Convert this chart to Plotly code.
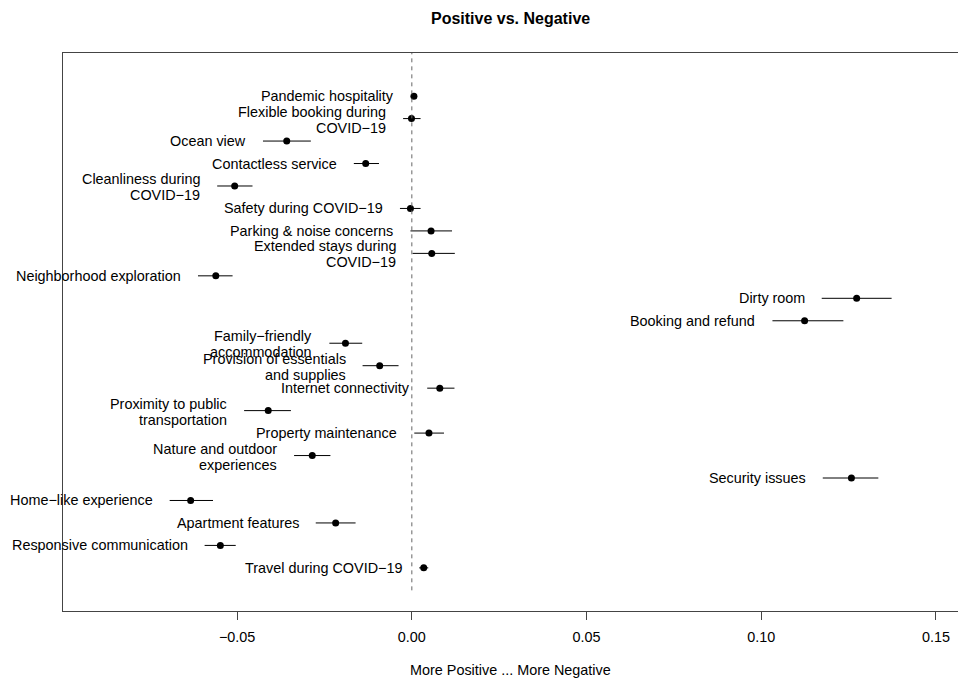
import plotly.graph_objects as go

# Topic-prevalence differences (positive vs. negative reviews) with 95% intervals
topics = [
    "Pandemic hospitality",
    "Flexible booking during\nCOVID−19",
    "Ocean view",
    "Contactless service",
    "Cleanliness during\nCOVID−19",
    "Safety during COVID−19",
    "Parking & noise concerns",
    "Extended stays during\nCOVID−19",
    "Neighborhood exploration",
    "Dirty room",
    "Booking and refund",
    "Family−friendly\naccommodation",
    "Provision of essentials\nand supplies",
    "Internet connectivity",
    "Proximity to public\ntransportation",
    "Property maintenance",
    "Nature and outdoor\nexperiences",
    "Security issues",
    "Home−like experience",
    "Apartment features",
    "Responsive communication",
    "Travel during COVID−19",
]
estimate = [0.0006, -0.0001, -0.0358, -0.0132, -0.0507, -0.0004, 0.0055, 0.0057,
            -0.0561, 0.1273, 0.1124, -0.0190, -0.0092, 0.0080, -0.0411, 0.0049,
            -0.0285, 0.1258, -0.0633, -0.0218, -0.0548, 0.0034]
ci_lower = [-0.0002, -0.0025, -0.0426, -0.0166, -0.0557, -0.0034, -0.0004, 0.0002,
            -0.0612, 0.1173, 0.1032, -0.0236, -0.0141, 0.0044, -0.0480, 0.0007,
            -0.0337, 0.1176, -0.0693, -0.0275, -0.0593, 0.0021]
ci_upper = [0.0014, 0.0025, -0.0289, -0.0094, -0.0456, 0.0025, 0.0115, 0.0123,
            -0.0513, 0.1373, 0.1235, -0.0142, -0.0038, 0.0122, -0.0346, 0.0092,
            -0.0233, 0.1335, -0.0569, -0.0161, -0.0504, 0.0047]

tick_vals = [-0.05, 0.0, 0.05, 0.10, 0.15]
tick_text = ["−0.05", "0.00", "0.05", "0.10", "0.15"]

FONT = "Liberation Sans, Arial, Helvetica, sans-serif"
TXT = 14.4
n = len(topics)
ypos = list(range(1, n + 1))

fig = go.Figure()
fig.add_trace(go.Scatter(
    x=estimate, y=ypos, mode="markers",
    marker=dict(color="black", size=7),
    error_x=dict(type="data", symmetric=False,
                 array=[u - e for u, e in zip(ci_upper, estimate)],
                 arrayminus=[e - l for e, l in zip(estimate, ci_lower)],
                 color="black", thickness=1, width=0),
    hoverinfo="skip", showlegend=False,
))

annotations = []
for y, label, lo in zip(ypos, topics, ci_lower):
    lines = label.split("\n")
    shifts = [0] if len(lines) == 1 else [7, -9]
    for line, ys in zip(lines, shifts):
        annotations.append(dict(
            x=lo, y=y, xref="x", yref="y", text=line, showarrow=False,
            xanchor="right", yanchor="middle", xshift=-15, yshift=ys,
            font=dict(family=FONT, size=TXT, color="black"),
        ))

annotations.append(dict(
    x=0.5, y=1, xref="paper", yref="paper", yshift=35,
    text="<b>Positive vs. Negative</b>", showarrow=False,
    xanchor="center", yanchor="middle",
    font=dict(family=FONT, size=16, color="black"),
))
annotations.append(dict(
    x=0.5, y=0, xref="paper", yref="paper", yshift=-59,
    text="More Positive ... More Negative", showarrow=False,
    xanchor="center", yanchor="middle",
    font=dict(family=FONT, size=TXT, color="black"),
))

fig.add_shape(type="line", xref="x", yref="y", x0=0, x1=0, y0=n + 1, y1=-0.92,
              line=dict(color="#666666", width=1, dash="4px,4px"))

fig.update_layout(
    width=958, height=678,
    margin=dict(l=63, r=0, t=53, b=67),
    paper_bgcolor="white", plot_bgcolor="white",
    annotations=annotations,
    font=dict(family=FONT, size=TXT, color="black"),
    xaxis=dict(range=[-0.09983, 0.1563], tickvals=tick_vals, ticktext=tick_text,
               showgrid=False, zeroline=False, showline=True, mirror=True,
               linecolor="#444444", linewidth=1, ticks="outside", ticklen=8,
               ticklabelstandoff=5,
               tickcolor="#444444", tickfont=dict(family=FONT, size=TXT, color="black")),
    yaxis=dict(range=[n + 1.92, -0.92], showgrid=False, zeroline=False,
               showline=True, linecolor="#444444", linewidth=1,
               showticklabels=False, ticks=""),
)

fig.write_html("out.html")
